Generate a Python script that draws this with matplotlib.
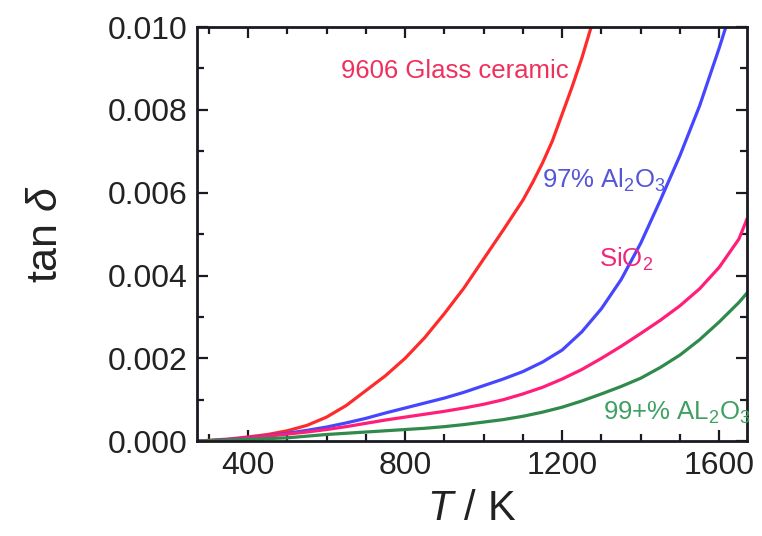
import matplotlib
matplotlib.use("Agg")
import matplotlib.pyplot as plt
from matplotlib.ticker import MultipleLocator

plt.rcParams["font.family"] = ["Liberation Sans", "DejaVu Sans"]
plt.rcParams["mathtext.fontset"] = "custom"
plt.rcParams["mathtext.rm"] = "Liberation Sans"
plt.rcParams["mathtext.it"] = "Liberation Sans:italic"

# temperature (K) and loss tangent (x1e-3)
T_glass = [273, 300, 350, 400, 450, 500, 550, 600, 650, 700, 750, 800, 850, 900,
           950, 1000, 1050, 1100, 1125, 1150, 1175, 1200, 1225, 1250, 1280]
tan_glass = [0.0, 0.02, 0.05, 0.10, 0.16, 0.25, 0.38, 0.58, 0.86, 1.22, 1.58, 2.0,
             2.5, 3.08, 3.7, 4.4, 5.1, 5.82, 6.25, 6.72, 7.25, 7.9, 8.55, 9.25, 10.2]

T_al97 = [273, 300, 350, 400, 450, 500, 550, 600, 650, 700, 750, 800, 850, 900,
          950, 1000, 1050, 1100, 1150, 1200, 1250, 1300, 1350, 1400, 1450, 1500,
          1550, 1600, 1630]
tan_al97 = [0.0, 0.01, 0.04, 0.08, 0.13, 0.19, 0.26, 0.34, 0.44, 0.55, 0.68, 0.80,
            0.92, 1.04, 1.18, 1.34, 1.50, 1.68, 1.91, 2.2, 2.64, 3.2, 3.9, 4.78,
            5.82, 6.9, 8.1, 9.5, 10.4]

T_sio2 = [273, 300, 350, 400, 450, 500, 550, 600, 650, 700, 750, 800, 850, 900,
          950, 1000, 1050, 1100, 1150, 1200, 1250, 1300, 1350, 1400, 1450, 1500,
          1550, 1600, 1650, 1670]
tan_sio2 = [0.0, 0.01, 0.03, 0.07, 0.12, 0.17, 0.22, 0.28, 0.35, 0.43, 0.51, 0.58,
            0.65, 0.72, 0.80, 0.89, 1.0, 1.14, 1.30, 1.50, 1.73, 2.0, 2.29, 2.6,
            2.92, 3.27, 3.68, 4.2, 4.88, 5.35]

T_al99 = [273, 300, 350, 400, 450, 500, 550, 600, 650, 700, 750, 800, 850, 900,
          950, 1000, 1050, 1100, 1150, 1200, 1250, 1300, 1350, 1400, 1450, 1500,
          1550, 1600, 1650, 1670]
tan_al99 = [0.0, 0.01, 0.02, 0.04, 0.06, 0.08, 0.12, 0.16, 0.19, 0.22, 0.25, 0.28,
            0.31, 0.35, 0.40, 0.46, 0.52, 0.60, 0.70, 0.82, 0.97, 1.14, 1.32, 1.52,
            1.78, 2.08, 2.45, 2.88, 3.35, 3.57]

C_RED   = "#ff2b2b"
C_BLUE  = "#4646ff"
C_PINK  = "#ff1f78"
C_GREEN = "#2f8a4c"

fig = plt.figure(figsize=(7.62, 5.36), dpi=100)
ax = fig.add_axes([0.2585, 0.177, 0.7215, 0.7725])

ax.plot(T_glass, [v * 1e-3 for v in tan_glass], color=C_RED, lw=2.3)
ax.plot(T_al97, [v * 1e-3 for v in tan_al97], color=C_BLUE, lw=2.3)
ax.plot(T_sio2, [v * 1e-3 for v in tan_sio2], color=C_PINK, lw=2.3)
ax.plot(T_al99, [v * 1e-3 for v in tan_al99], color=C_GREEN, lw=2.3)

ax.text(637, 0.00895, "9606 Glass ceramic", color="#f0305c", fontsize=18.5, va="center")
ax.text(1149, 0.0063, r"97% Al$\mathregular{_2}$O$\mathregular{_3}$", color="#5555d8",
        fontsize=18.5, va="center")
ax.text(1294, 0.0044, r"SiO$\mathregular{_2}$", color="#f0287a", fontsize=18.5, va="center")
ax.text(1304, 0.00068, r"99+% AL$\mathregular{_2}$O$\mathregular{_3}$", color="#3fa063",
        fontsize=18.5, va="center")

ax.set_xlim(270, 1670)
ax.set_ylim(0, 0.010)
ax.xaxis.set_major_locator(MultipleLocator(400))
ax.xaxis.set_minor_locator(MultipleLocator(100))
ax.yaxis.set_major_locator(MultipleLocator(0.002))
ax.yaxis.set_minor_locator(MultipleLocator(0.001))
ax.yaxis.set_major_formatter(matplotlib.ticker.FormatStrFormatter("%.3f"))

ax.tick_params(which="both", direction="in", top=True, right=True, width=1.6,
               color="#1a1a22")
ax.tick_params(which="major", length=8, labelsize=23, pad=7, labelcolor="#222222")
ax.tick_params(which="minor", length=5)
for sp in ax.spines.values():
    sp.set_linewidth(2)
    sp.set_color("#1a1a22")

ax.set_xlabel(r"$T$ / K", fontsize=30, labelpad=6, color="#222222")
ax.set_ylabel(r"tan $\delta$", fontsize=31, labelpad=30, color="#222222")

fig.savefig("out.png", dpi=100)
